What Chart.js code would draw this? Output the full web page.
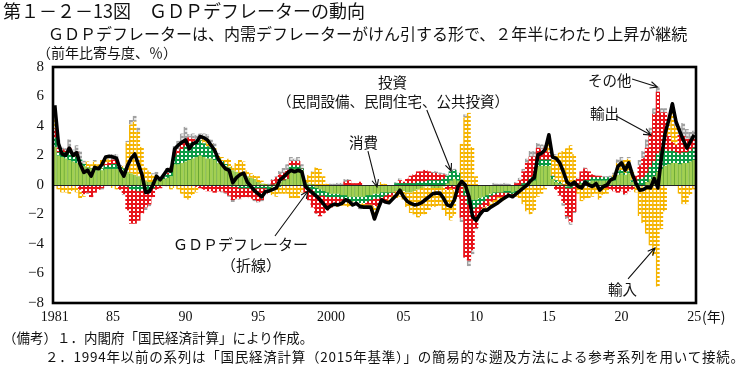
<!DOCTYPE html>
<html><head><meta charset="utf-8">
<script src="https://cdn.jsdelivr.net/npm/chart.js@4.4.1/dist/chart.umd.min.js"></script>
<style>
body{margin:0;background:#fff;}
#wrap{position:relative;width:740px;height:366px;overflow:hidden;font-family:"Noto Sans CJK JP",sans-serif;color:#111;}
canvas{position:absolute;left:0;top:0;}
.t{position:absolute;white-space:nowrap;line-height:1;}
</style></head><body>
<div id="wrap">
<canvas id="c" width="740" height="366"></canvas>
<div class="t" style="left:3px;top:1px;font-size:18px;">第１－２－13図　ＧＤＰデフレーターの動向</div>
<div class="t" style="left:48px;top:25px;font-size:16px;">ＧＤＰデフレーターは、内需デフレーターがけん引する形で、２年半にわたり上昇が継続</div>
<div class="t" style="left:37px;top:45px;font-size:14px;">（前年比寄与度、％）</div>
<div class="t" style="left:378px;top:75px;font-size:14.5px;">投資</div>
<div class="t" style="left:277px;top:94px;font-size:14.5px;">（民間設備、民間住宅、公共投資）</div>
<div class="t" style="left:349px;top:135px;font-size:14.5px;">消費</div>
<div class="t" style="left:173px;top:236px;font-size:15px;">ＧＤＰデフレーター</div>
<div class="t" style="left:221px;top:257px;font-size:15px;">（折線）</div>
<div class="t" style="left:588px;top:73px;font-size:14.5px;">その他</div>
<div class="t" style="left:590px;top:106px;font-size:14.5px;">輸出</div>
<div class="t" style="left:608px;top:282px;font-size:14.5px;">輸入</div>
<div class="t" style="left:702px;top:309px;font-size:14px;">(年)</div>
<div class="t" style="left:3px;top:331px;font-size:13.5px;">（備考）１．内閣府「国民経済計算」により作成。</div>
<div class="t" style="left:45px;top:350px;font-size:13.5px;letter-spacing:0.75px;">２．1994年以前の系列は「国民経済計算（2015年基準）」の簡易的な遡及方法による参考系列を用いて接続。</div>
</div>
<script>
// ---- categories (quarters 1981Q1 .. 2025Q1) ----
const firstYear = 1981, quarterCount = 177;
const quarters = [];
for (let y = firstYear; quarters.length < quarterCount; y++) for (let q = 1; q <= 4 && quarters.length < quarterCount; q++) quarters.push(y + 'Q' + q);
const tickYears = [1981,1985,1990,1995,2000,2005,2010,2015,2020,2025];
const tickNames = ['1981','85','90','95','2000','05','10','15','20','25'];

// ---- series (contribution, %pt) ----
const consumption = [
 2.6,2.0,1.9,1.8,1.7,1.6,1.5,1.4,1.3,1.2,1.1,1.0,1.0,1.0,1.1,1.1,
 1.1,1.1,1.0,1.0,0.9,0.8,0.7,0.6,0.4,0.3,0.2,0.2,0.3,0.3,0.4,0.5,
 0.6,1.4,1.4,1.5,1.6,1.7,1.8,1.9,2.0,1.9,1.8,1.8,1.7,1.5,1.4,1.3,1.2,1.0,0.9,0.8,
 0.7,0.6,0.5,0.4,0.2,0.1,0.0,-0.1,0.0,0.1,0.2,0.3,0.4,1.1,1.1,1.1,1.0,0.2,0.1,0.0,
 -0.2,-0.3,-0.4,-0.5,-0.6,-0.6,-0.6,-0.7,-0.7,-0.8,-0.8,-0.8,-0.8,-0.8,-0.7,-0.7,-0.6,-0.6,-0.5,-0.5,
 -0.5,-0.5,-0.4,-0.4,-0.4,-0.5,-0.5,-0.4,-0.3,-0.2,-0.1,-0.1,-0.2,-0.2,-0.2,-0.1,0.1,0.3,0.4,0.3,
 0.0,-0.4,-0.8,-1.0,-1.0,-0.9,-0.8,-0.7,-0.6,-0.5,-0.5,-0.5,-0.4,-0.4,-0.5,-0.4,-0.3,-0.2,0.0,0.2,
 0.3,1.3,1.3,1.3,1.3,0.4,0.2,0.1,0.0,-0.1,-0.1,0.0,0.0,0.1,0.2,0.2,0.3,0.3,0.3,0.3,
 0.3,0.3,0.3,0.7,0.8,0.7,0.8,0.2,0.0,-0.1,0.0,0.2,0.4,0.6,0.9,1.1,1.3,1.4,1.5,1.5,1.4,1.5,1.5,1.6,1.7
];
const investment = [
 0.6,0.2,0.3,0.4,0.5,0.4,0.4,0.3,0.1,0.0,0.0,0.1,0.1,0.1,0.2,0.2,
 0.3,0.3,0.2,0.1,-0.1,-0.3,-0.3,-0.4,-0.3,-0.3,-0.3,-0.2,0.0,0.0,0.1,0.2,
 0.3,0.5,0.7,0.9,1.0,1.1,1.1,1.0,1.0,0.9,0.8,0.7,0.5,0.3,0.2,0.1,0.0,-0.1,-0.1,-0.2,
 -0.2,-0.2,-0.2,-0.2,-0.2,-0.2,-0.2,-0.2,-0.1,-0.1,-0.1,0.0,0.0,0.2,0.2,0.2,0.1,-0.1,-0.2,-0.3,
 -0.4,-0.4,-0.3,-0.3,-0.2,-0.2,-0.2,-0.2,-0.2,-0.3,-0.3,-0.4,-0.4,-0.4,-0.4,-0.3,-0.3,-0.3,-0.3,-0.2,
 -0.1,0.0,0.1,0.1,0.1,0.1,0.1,0.1,0.2,0.2,0.2,0.3,0.3,0.3,0.3,0.4,0.5,0.6,0.6,0.5,
 0.0,-0.3,-0.5,-0.6,-0.5,-0.4,-0.3,-0.2,-0.1,-0.1,0.0,0.0,-0.1,-0.1,-0.1,-0.1,0.0,0.1,0.2,0.3,
 0.3,0.4,0.4,0.4,0.4,0.2,0.1,0.1,0.0,-0.1,-0.1,0.0,0.0,0.1,0.1,0.1,0.2,0.2,0.2,0.2,
 0.2,0.2,0.2,0.2,0.2,0.1,0.1,0.1,0.2,0.4,0.5,0.6,0.8,1.0,1.2,1.2,1.1,0.9,0.8,0.7,0.7,0.7,0.7,0.7,0.8
];
const exportsC = [
 0.6,0.3,0.2,0.1,0.3,0.1,0.3,-0.3,-0.6,-0.5,-0.8,-0.5,-0.3,-0.2,0.1,0.2,
 0.3,0.3,-0.3,-0.6,-1.6,-2.3,-2.3,-2.0,-1.6,-1.2,-1.0,-0.6,-0.3,-0.2,0.0,0.1,
 0.2,0.3,0.3,0.4,0.5,0.4,0.2,-0.1,-0.2,-0.3,-0.4,-0.4,-0.5,-0.4,-0.4,-0.5,-0.7,-0.9,-0.8,-0.7,
 -0.6,-0.6,-0.7,-0.8,-0.9,-0.8,-0.4,0.0,0.3,0.4,0.5,0.5,0.6,0.3,0.3,0.3,0.0,-0.4,-0.8,-1.2,
 -1.3,-1.4,-1.2,-0.9,-0.7,-0.5,-0.4,-0.2,0.2,0.3,0.1,0.1,0.2,0.0,-0.2,-0.3,-0.5,-0.5,-0.4,-0.5,
 -0.3,-0.2,0.0,0.2,0.1,0.3,0.5,0.6,0.7,0.7,0.8,0.6,0.5,0.5,0.4,0.3,-0.3,-0.2,-0.3,-0.9,
 -2.2,-4.2,-3.8,-2.8,-1.4,-0.6,-0.4,-0.5,-0.4,-0.4,-0.3,-0.3,-0.3,-0.2,-0.1,0.1,0.3,0.8,1.3,1.4,
 1.3,0.8,0.7,0.8,0.5,0.0,-0.3,-0.7,-1.2,-1.9,-2.3,-1.8,0.4,0.7,0.8,0.6,0.2,0.1,0.1,0.0,
 -0.2,-0.3,-0.4,-0.5,-0.4,-0.6,-0.4,-0.3,0.4,0.9,1.3,1.7,2.3,3.2,4.2,2.6,2.5,1.0,0.6,0.5,1.3,1.1,0.9,0.8,0.8
];
const importsC = [
 0.6,-0.3,-0.5,-0.5,-0.6,-0.4,-0.5,-0.6,-0.2,0.4,0.3,0.5,0.3,0.6,0.4,0.3,
 -0.2,-0.3,0.0,0.2,2.0,3.3,3.6,3.0,2.2,0.9,0.8,0.5,0.4,0.2,0.0,-0.1,
 -0.3,-0.2,-0.3,-0.6,-0.9,-1.0,-0.7,-0.4,0.1,0.4,0.5,0.3,0.4,0.2,0.3,0.3,0.6,0.3,0.6,0.9,
 0.9,0.4,0.3,0.3,0.4,0.2,0.1,-0.2,-0.6,-0.7,-0.5,-0.6,-0.6,-0.9,-0.9,-0.9,-0.5,0.2,0.6,0.9,
 1.2,1.1,0.6,0.1,0.0,-0.1,-0.3,-0.3,-0.5,-0.4,-0.3,-0.1,-0.3,-0.2,-0.1,-0.1,-0.5,-0.1,0.2,0.1,
 -0.2,-0.2,-0.5,-0.4,-0.6,-1.0,-1.4,-1.6,-1.9,-1.9,-1.9,-1.6,-1.3,-1.3,-1.2,-1.6,-1.8,-2.2,-1.8,0.0,
 2.8,4.6,4.9,2.6,0.6,0.0,-0.2,-0.3,-0.4,-0.5,-0.5,-0.3,-0.2,-0.1,-0.1,-0.3,-0.6,-1.1,-1.8,-2.0,
 -1.8,-0.8,-0.6,-0.3,0.9,1.2,1.7,2.0,2.3,2.5,2.7,2.1,-0.6,-1.1,-1.0,-0.9,-0.8,-0.6,-1.0,-0.7,
 -0.4,0.0,0.2,0.6,0.6,0.9,0.9,0.6,-0.5,-2.0,-2.6,-3.3,-4.1,-4.8,-6.9,-3.0,-1.8,0.8,2.3,1.3,-0.6,-1.3,-1.3,-0.7,-0.3
];
const others = [
 1.0,0.6,0.2,0.2,0.6,0.3,0.5,0.6,0.25,-0.1,0.0,0.1,0.0,-0.1,0.1,0.15,
 0.4,0.4,0.15,-0.1,0.1,0.3,0.4,0.3,0.0,-0.2,-0.15,0.1,0.2,0.05,0.2,0.35,
 0.15,0.45,0.6,0.7,0.85,0.25,0.4,0.5,0.4,0.3,0.35,0.3,0.25,0.15,-0.1,-0.1,-0.1,-0.15,-0.1,-0.1,
 0.0,0.0,0.0,-0.1,-0.1,-0.1,0.05,0.1,0.1,0.1,0.25,0.35,0.4,0.3,0.2,0.3,0.3,0.0,-0.05,0.05,
 -0.05,0.0,0.0,0.0,0.1,0.1,0.15,0.15,0.2,0.1,-0.05,-0.05,-0.15,-0.1,-0.1,-0.1,-0.4,-0.1,0.0,-0.05,
 -0.1,-0.05,0.1,0.15,0.0,0.0,0.05,-0.05,0.0,0.0,0.0,0.0,0.1,0.15,0.15,0.1,0.15,0.05,0.1,0.0,
 -0.3,0.2,-0.4,-0.3,-0.1,-0.1,0.0,0.0,0.0,0.15,0.1,0.1,0.15,0.1,0.0,0.1,0.2,0.2,0.3,0.4,
 0.4,0.35,0.35,0.2,0.3,0.1,0.1,0.0,-0.2,-0.2,-0.2,-0.1,0.1,0.0,0.1,0.0,0.0,0.1,0.05,0.1,
 0.1,0.15,0.15,0.25,0.3,-0.1,0.1,0.1,0.0,0.4,0.5,0.6,0.4,0.4,0.4,0.3,0.3,0.3,0.3,0.3,0.6,0.9,0.7,0.5,0.4
];
const deflator = [
 5.4,2.8,2.1,2.0,2.5,2.0,2.2,1.4,0.85,1.0,0.6,1.2,1.1,1.4,1.9,1.95,
 1.9,1.8,1.05,0.6,1.3,1.8,2.1,1.4,0.7,-0.5,-0.45,0.0,0.6,0.35,0.7,1.05,
 0.95,2.45,2.7,2.9,3.05,2.45,2.8,2.9,3.3,3.2,3.05,2.7,2.35,1.75,1.4,1.1,1.0,0.15,0.5,0.7,
 0.8,0.2,-0.1,-0.4,-0.6,-0.8,-0.45,-0.4,-0.3,-0.2,0.35,0.55,0.8,1.0,0.9,1.0,0.9,-0.1,-0.35,-0.55,
 -0.75,-1.0,-1.3,-1.6,-1.4,-1.3,-1.35,-1.25,-1.0,-1.1,-1.35,-1.25,-1.45,-1.5,-1.5,-1.5,-2.3,-1.6,-1.0,-1.15,
 -1.2,-0.95,-0.7,-0.35,-0.8,-1.1,-1.25,-1.35,-1.3,-1.2,-1.0,-0.8,-0.6,-0.55,-0.55,-0.9,-1.35,-1.45,-1.0,-0.1,
 0.25,0.0,-0.8,-2.15,-2.4,-2.0,-1.7,-1.7,-1.5,-1.35,-1.2,-1.0,-0.85,-0.7,-0.8,-0.6,-0.4,-0.2,0.0,0.3,
 0.5,2.05,2.15,2.4,3.4,1.9,1.8,1.5,0.9,0.2,0.0,0.2,-0.1,-0.2,0.2,0.0,-0.1,0.1,-0.35,-0.1,
 0.0,0.35,0.45,1.25,1.5,1.0,1.5,0.7,0.1,-0.35,-0.3,-0.15,-0.2,0.45,-0.2,1.9,3.5,4.4,5.5,4.3,3.65,3.05,2.5,2.95,3.4
];
// annotation arrows: [category index, value] tail -> tip
const arrows = [
 {from:[102.4,5.08], to:[109.1,0.95]},
 {from:[86.2,2.3], to:[88.7,-0.14]},
 {from:[60.6,-3.46], to:[69.7,-0.41]},
 {from:[158.9,7.19], to:[165.9,6.64]},
 {from:[154.5,4.68], to:[164.1,3.39]},
 {from:[157.8,-6.37], to:[165.2,-4.27]}
];

// ---- fills ----
function tile(w,h,draw){const c=document.createElement('canvas');c.width=w;c.height=h;const g=c.getContext('2d');draw(g);return g.createPattern(c,'repeat');}
const ctx0 = document.getElementById('c').getContext('2d');
const dotted = (bg)=>tile(4,4,g=>{g.fillStyle=bg;g.fillRect(0,0,4,4);g.fillStyle='#ffffff';g.fillRect(1,1,2,2);});
const gridded = (line,cell)=>tile(4,4,g=>{g.fillStyle=cell;g.fillRect(0,0,4,4);g.fillStyle=line;g.fillRect(0,0,4,2);});
const invFill = dotted('#0A9A45');
const expFill = dotted('#E8141B');
const impFill = gridded('#F5B400','#ffffff');
const othFill = gridded('#A0A0A0','#E4E4E4');

const barBase = {type:'bar', stack:'bars', order:1, barPercentage:1, categoryPercentage:1, borderSkipped:false};
const leftBorder = {top:0,right:0,bottom:0,left:1};
const gridBorder = {top:0,right:0,bottom:0,left:1.5};

const decor = {
  id:'decor',
  beforeDatasetDraw(chart,args){
    if(args.index!==5) return;
    const {ctx,chartArea:a,scales:{y}}=chart;
    const y0=Math.round(y.getPixelForValue(0))+0.5;
    ctx.save();ctx.strokeStyle='#222';ctx.lineWidth=1;
    ctx.beginPath();ctx.moveTo(a.left,y0);ctx.lineTo(a.right,y0);ctx.stroke();ctx.restore();
  },
  afterDatasetsDraw(chart){
    const {ctx,chartArea:a,scales:{x,y}}=chart;
    ctx.save();
    ctx.strokeStyle='#000';ctx.lineWidth=2.6;
    ctx.strokeRect(a.left,a.top,a.right-a.left,a.bottom-a.top);
    ctx.lineWidth=1.1;ctx.strokeStyle='#111';
    arrows.forEach(ar=>{
      const x1=x.getPixelForValue(ar.from[0]), y1=y.getPixelForValue(ar.from[1]);
      const x2=x.getPixelForValue(ar.to[0]), y2=y.getPixelForValue(ar.to[1]);
      const ang=Math.atan2(y2-y1,x2-x1), L=8, s=0.42;
      ctx.beginPath();ctx.moveTo(x1,y1);ctx.lineTo(x2,y2);
      ctx.moveTo(x2-L*Math.cos(ang-s),y2-L*Math.sin(ang-s));ctx.lineTo(x2,y2);
      ctx.lineTo(x2-L*Math.cos(ang+s),y2-L*Math.sin(ang+s));
      ctx.stroke();
    });
    ctx.restore();
  }
};

new Chart(document.getElementById('c'),{
  data:{
    labels:quarters,
    datasets:[
      {...barBase,label:'消費',data:consumption,backgroundColor:'#A2D052',borderColor:'#67A634',borderWidth:leftBorder},
      {...barBase,label:'投資',data:investment,backgroundColor:invFill,borderWidth:0},
      {...barBase,label:'輸出',data:exportsC,backgroundColor:expFill,borderWidth:0},
      {...barBase,label:'輸入',data:importsC,backgroundColor:impFill,borderColor:'#F5B400',borderWidth:gridBorder},
      {...barBase,label:'その他',data:others,backgroundColor:othFill,borderColor:'#A0A0A0',borderWidth:gridBorder},
      {type:'line',label:'GDPデフレーター',data:deflator,stack:'line',order:0,borderColor:'#000',borderWidth:3.6,pointRadius:0,tension:0,borderJoinStyle:'round',fill:false}
    ]
  },
  options:{
    responsive:false,animation:false,
    layout:{padding:{left:0,top:67,right:44,bottom:0}},
    plugins:{legend:{display:false},tooltip:{enabled:false}},
    scales:{
      x:{type:'category',stacked:true,offset:true,
         grid:{display:false,drawTicks:false},border:{display:false},
         afterFit(s){s.height=63;},
         ticks:{autoSkip:false,maxRotation:0,minRotation:0,padding:6,color:'#111',
           font:{family:'"Liberation Serif", serif',size:14},
           callback(v){const lab=quarters[v]; if(lab && lab.endsWith('Q1')){const k=tickYears.indexOf(+lab.slice(0,4)); if(k>=0) return tickNames[k];} return '';}}},
      y:{stacked:true,min:-8,max:8,
         grid:{display:false,drawTicks:false},border:{display:false},
         afterFit(s){s.width=53;},
         ticks:{stepSize:2,padding:9,color:'#111',font:{family:'"Liberation Serif", serif',size:15},
           callback(v){return String(v).replace('-','−');}}}
    }
  },
  plugins:[decor]
});
</script>
</body></html>
